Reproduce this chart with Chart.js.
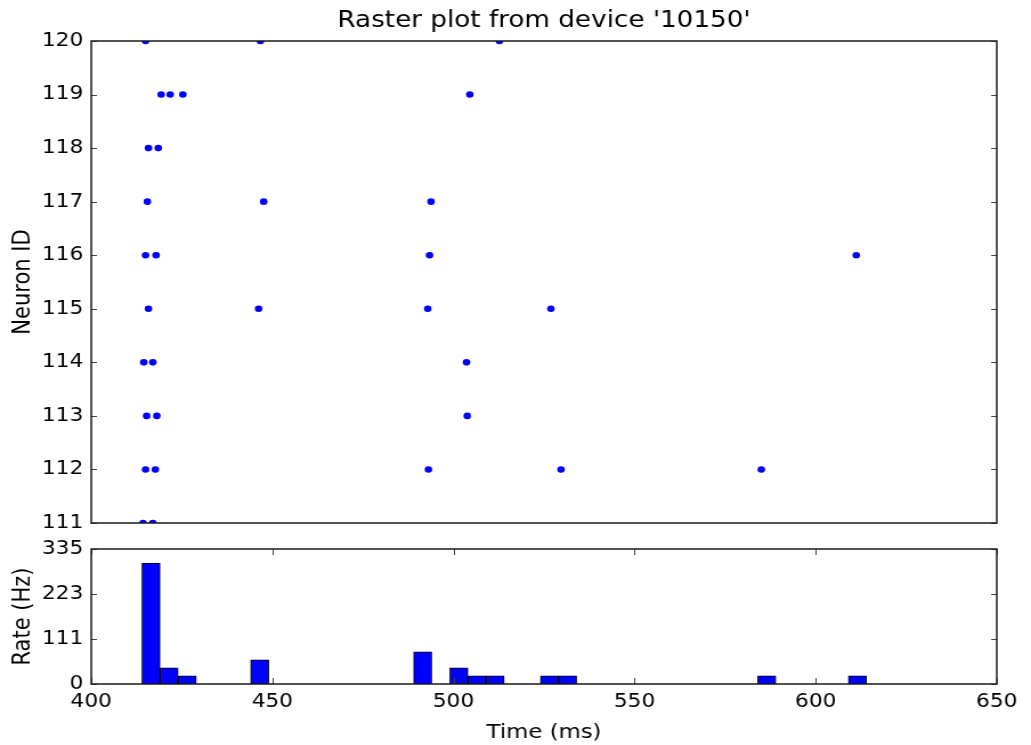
<!DOCTYPE html>
<html>
<head>
  <meta charset="utf-8">
  <title>Raster plot</title>
  <script src="https://cdn.jsdelivr.net/npm/chart.js@4.4.1/dist/chart.umd.min.js"></script>
  <style>
    body { margin: 0; background: #fff; }
    #wrap { position: relative; width: 1031px; height: 745px; }
    #raster { position: absolute; left: 0; top: 0; }
    #rate { position: absolute; left: 0; top: 530px; }
  </style>
</head>
<body>
<div id="wrap">
  <!-- the source figure is a bit wider than tall, so the canvases are stretched sideways -->
  <canvas id="raster" width="904" height="530" style="width:1031px;height:530px"></canvas>
  <canvas id="rate" width="904" height="215" style="width:1031px;height:215px"></canvas>
</div>
<script>
// spikes, one list per neuron (times in ms)
var neuronIds = [120, 119, 118, 117, 116, 115, 114, 113, 112, 111];
var spikeTimes = [
    [415.0, 446.7, 512.7],
    [419.3, 421.8, 425.3, 504.5],
    [415.8, 418.5],
    [415.5, 447.6, 493.8],
    [415.0, 417.9, 493.4, 611.2],
    [415.8, 446.2, 492.9, 526.9],
    [414.5, 417.0, 503.6],
    [415.3, 418.1, 503.8],
    [415.0, 417.7, 493.1, 529.7, 585.0],
    [414.3, 417.0]
];

// histogram bins (start of bin, ms) and rates (Hz)
var binWidth = 5;
var binStarts = [414, 419, 424, 444, 489, 499, 504, 509, 524, 529, 584, 609];
var binRates  = [300, 40, 20, 60, 80, 40, 20, 20, 20, 20, 20, 20];

var timeTicks = [400, 450, 500, 550, 600, 650];
var rateMax = 335;
var rateTickLabels = ['0', '111', '223', '335'];

Chart.defaults.font.family = 'DejaVu Sans';
Chart.defaults.color = '#000';

// frame + inward tick marks like matplotlib
var framePlugin = {
    id: 'frame',
    afterDatasetsDraw: function(chart, args, opts) {
        var ctx = chart.ctx, a = chart.chartArea;
        ctx.save();
        ctx.strokeStyle = '#444';
        ctx.lineWidth = 1;
        ctx.beginPath();
        chart.scales.y.ticks.forEach(function(t) {
            var py = Math.round(chart.scales.y.getPixelForValue(t.value)) + 0.5;
            ctx.moveTo(a.left, py); ctx.lineTo(a.left + 5, py);
            ctx.moveTo(a.right, py); ctx.lineTo(a.right - 5, py);
        });
        if (opts.xTicks) {
            chart.scales.x.ticks.forEach(function(t) {
                var px = Math.round(chart.scales.x.getPixelForValue(t.value)) + 0.5;
                ctx.moveTo(px, a.top); ctx.lineTo(px, a.top + 6);
                ctx.moveTo(px, a.bottom); ctx.lineTo(px, a.bottom - 6);
            });
        }
        ctx.stroke();
        ctx.strokeStyle = '#1a1a1a';
        ctx.lineWidth = 1.5;
        ctx.strokeRect(a.left, a.top, a.right - a.left, a.bottom - a.top);
        ctx.restore();
    }
};

function noPad(s) {
    s.paddingTop = 0; s.paddingBottom = 0;
    s.paddingLeft = 0; s.paddingRight = 0;
}

var rasterData = [];
neuronIds.forEach(function(id, i) {
    spikeTimes[i].forEach(function(t) {
        rasterData.push({x: t, y: id});
    });
});

new Chart(document.getElementById('raster'), {
    type: 'scatter',
    data: {
        datasets: [{
            data: rasterData,
            pointRadius: 3.3,
            pointBackgroundColor: '#0000ff',
            pointBorderWidth: 0,
            clip: 0
        }]
    },
    options: {
        responsive: false,
        animation: false,
        layout: { padding: { right: 30, bottom: 7 } },
        plugins: {
            legend: { display: false },
            tooltip: { enabled: false },
            title: {
                display: true,
                fullSize: false,
                text: "Raster plot from device '10150'",
                font: { size: 23, weight: 'normal' },
                padding: { top: 7, bottom: 6.4 },
                color: '#000'
            },
            frame: { xTicks: false }
        },
        scales: {
            x: {
                type: 'linear', min: 400, max: 650,
                display: false,
                ticks: { stepSize: 50 }
            },
            y: {
                min: 111, max: 120,
                grid: { display: false, drawTicks: false },
                border: { display: false },
                ticks: { stepSize: 1, padding: 7, font: { size: 19 } },
                title: { display: true, text: 'Neuron ID', font: { size: 21 }, padding: { top: 8, bottom: 0 } },
                afterFit: function(s) { s.width = 80; noPad(s); }
            }
        }
    },
    plugins: [framePlugin]
});

new Chart(document.getElementById('rate'), {
    type: 'bar',
    data: {
        datasets: [{
            data: binStarts.map(function(s, i) { return {x: s + binWidth / 2, y: binRates[i]}; }),
            backgroundColor: '#0000ff',
            borderColor: '#000',
            borderWidth: 1,
            barPercentage: 1,
            categoryPercentage: 1
        }]
    },
    options: {
        responsive: false,
        animation: false,
        layout: { padding: { top: 19, right: 30 } },
        plugins: {
            legend: { display: false },
            tooltip: { enabled: false },
            frame: { xTicks: true }
        },
        scales: {
            x: {
                type: 'linear', min: 400, max: 650, offset: false,
                grid: { display: false, drawTicks: false, offset: false },
                border: { display: false },
                afterBuildTicks: function(s) { s.ticks = timeTicks.map(function(v) { return {value: v}; }); },
                ticks: { padding: 7, font: { size: 19 }, maxRotation: 0 },
                title: { display: true, text: 'Time (ms)', font: { size: 20 }, padding: { top: 0, bottom: 0 } },
                afterFit: function(s) { s.height = 61; noPad(s); }
            },
            y: {
                min: 0, max: rateMax,
                grid: { display: false, drawTicks: false },
                border: { display: false },
                afterBuildTicks: function(s) {
                    s.ticks = rateTickLabels.map(function(l, i) { return {value: rateMax * i / 3}; });
                },
                ticks: {
                    padding: 7, font: { size: 19 },
                    callback: function(v, i) { return rateTickLabels[i]; }
                },
                title: { display: true, text: 'Rate (Hz)', font: { size: 21 }, padding: { top: 8, bottom: 0 } },
                afterFit: function(s) { s.width = 80; noPad(s); }
            }
        }
    },
    plugins: [framePlugin]
});
</script>
</body>
</html>
